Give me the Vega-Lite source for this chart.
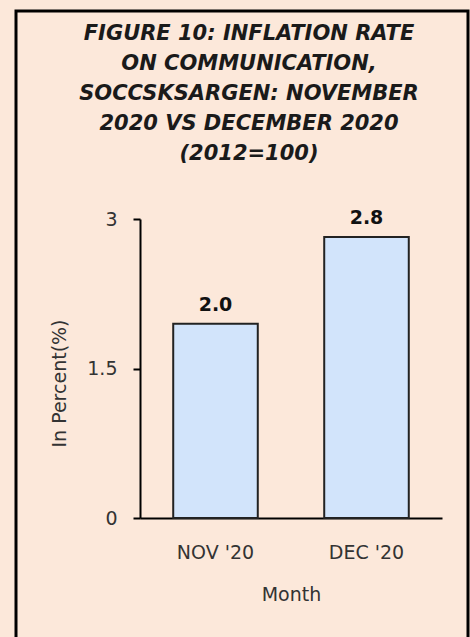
{
  "$schema": "https://vega.github.io/schema/vega-lite/v6.json",
  "width": 452,
  "height": 629,
  "autosize": {"type": "none"},
  "padding": {"left": 16, "top": 11, "right": 2, "bottom": -3},
  "background": "#FCE8DA",
  "config": {
    "view": {"stroke": "#000000", "strokeWidth": 3, "fill": "#FCE8DA"},
    "font": "DejaVu Sans"
  },
  "title": {
    "text": ["FIGURE 10: INFLATION RATE", "ON COMMUNICATION,", "SOCCSKSARGEN: NOVEMBER", "2020 VS DECEMBER 2020", "(2012=100)"],
    "font": "DejaVu Sans",
    "fontStyle": "italic",
    "fontWeight": "bold",
    "fontSize": 21,
    "lineHeight": 30,
    "color": "#1a1a1a",
    "anchor": "middle",
    "frame": "group",
    "baseline": "top",
    "offset": -153,
    "dx": 7
  },
  "data": {
    "values": [
      {"month": "NOV '20", "value": 1.95, "label": "2.0"},
      {"month": "DEC '20", "value": 2.82, "label": "2.8"}
    ]
  },
  "encoding": {
    "x": {
      "field": "month",
      "type": "nominal",
      "sort": null,
      "scale": {"range": [124, 426], "paddingInner": 0.44, "paddingOuter": 0.22},
      "axis": {
        "title": "Month",
        "orient": "bottom",
        "offset": -122,
        "domainColor": "#000000",
        "domainWidth": 2,
        "ticks": false,
        "tickSize": 0,
        "labelAngle": 0,
        "labelFont": "DejaVu Sans",
        "labelFontSize": 19,
        "labelColor": "#333333",
        "labelPadding": 25,
        "titleFont": "DejaVu Sans",
        "titleFontSize": 19,
        "titleFontWeight": "normal",
        "titleColor": "#333333",
        "titleBaseline": "alphabetic",
        "titleY": 82
      }
    },
    "y": {
      "field": "value",
      "type": "quantitative",
      "scale": {"domain": [0, 3], "range": [507, 208], "nice": false, "zero": true},
      "axis": {
        "title": "In Percent(%)",
        "orient": "left",
        "offset": -124,
        "values": [0, 1.5, 3],
        "format": ".1~f",
        "grid": false,
        "domainColor": "#000000",
        "domainWidth": 2,
        "tickColor": "#000000",
        "tickWidth": 2,
        "tickSize": 7,
        "labelFont": "DejaVu Sans",
        "labelFontSize": 19,
        "labelColor": "#333333",
        "labelPadding": 16,
        "titleFont": "DejaVu Sans",
        "titleFontSize": 19,
        "titleFontWeight": "normal",
        "titleColor": "#333333",
        "titleAngle": 270,
        "titleBaseline": "alphabetic",
        "titleX": -75,
        "titleY": 372
      }
    }
  },
  "layer": [
    {
      "mark": {"type": "bar", "fill": "#D2E4FB", "stroke": "#222222", "strokeWidth": 2}
    },
    {
      "mark": {"type": "text", "font": "DejaVu Sans", "fontWeight": "bold", "fontSize": 19, "color": "#111111", "baseline": "alphabetic", "dy": -13},
      "encoding": {"text": {"field": "label"}}
    }
  ]
}
